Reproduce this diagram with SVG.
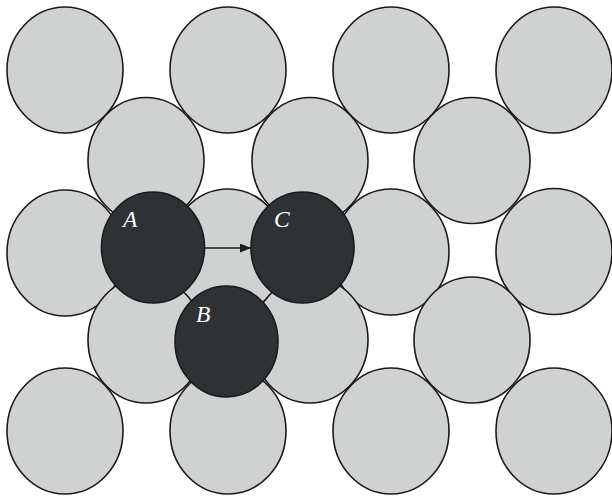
<svg xmlns="http://www.w3.org/2000/svg" width="612" height="497" viewBox="0 0 612 497">
<style>
.g{fill:#d0d1d1;stroke:#1a1a1a;stroke-width:1.6}
.d{fill:#2e3234;stroke:#1a1a1a;stroke-width:1.6}
.l{fill:#ffffff;font-family:"Liberation Serif","Times New Roman",serif;font-style:italic;font-size:23.5px}
</style>
<defs>
<marker id="ah" markerWidth="11" markerHeight="9" refX="11" refY="4.5" orient="auto" markerUnits="userSpaceOnUse">
<path d="M0,0 L11,4.5 L0,9 Z" fill="#1a1a1a"/>
</marker>
</defs>
<g id="lattice">
<ellipse class="g" cx="65" cy="70" rx="58" ry="63"/>
<ellipse class="g" cx="228" cy="70" rx="58" ry="63"/>
<ellipse class="g" cx="391" cy="70" rx="58" ry="63"/>
<ellipse class="g" cx="554" cy="70" rx="58" ry="63"/>
<ellipse class="g" cx="146" cy="160.5" rx="58" ry="63"/>
<ellipse class="g" cx="310" cy="160.5" rx="58" ry="63"/>
<ellipse class="g" cx="472" cy="160.5" rx="58" ry="63"/>
<ellipse class="g" cx="65" cy="253" rx="58" ry="63"/>
<ellipse class="g" cx="228" cy="252" rx="58" ry="63"/>
<ellipse class="g" cx="391" cy="252" rx="58" ry="63"/>
<ellipse class="g" cx="554" cy="251.5" rx="58" ry="63"/>
<ellipse class="g" cx="146" cy="340" rx="58" ry="63"/>
<ellipse class="g" cx="310" cy="340" rx="58" ry="63"/>
<ellipse class="g" cx="472" cy="340" rx="58" ry="63"/>
<ellipse class="g" cx="65" cy="431" rx="58" ry="63"/>
<ellipse class="g" cx="228" cy="431" rx="58" ry="63"/>
<ellipse class="g" cx="391" cy="431" rx="58" ry="63"/>
<ellipse class="g" cx="554" cy="431" rx="58" ry="63"/>
</g>
<g id="nodeA">
<ellipse class="d" cx="153" cy="247.5" rx="51.5" ry="55.5"/>
<text class="l" x="123" y="227">A</text>
</g>
<g id="nodeC">
<ellipse class="d" cx="302.5" cy="247.5" rx="51.5" ry="55.5"/>
<text class="l" x="274" y="227">C</text>
</g>
<g id="nodeB">
<ellipse class="d" cx="226.5" cy="341.5" rx="51.5" ry="55.5"/>
<text class="l" x="196" y="322">B</text>
</g>
<g id="connectors">
<line x1="205" y1="248" x2="251" y2="248" stroke="#1a1a1a" stroke-width="1.6" marker-end="url(#ah)"/>
</g>
</svg>
